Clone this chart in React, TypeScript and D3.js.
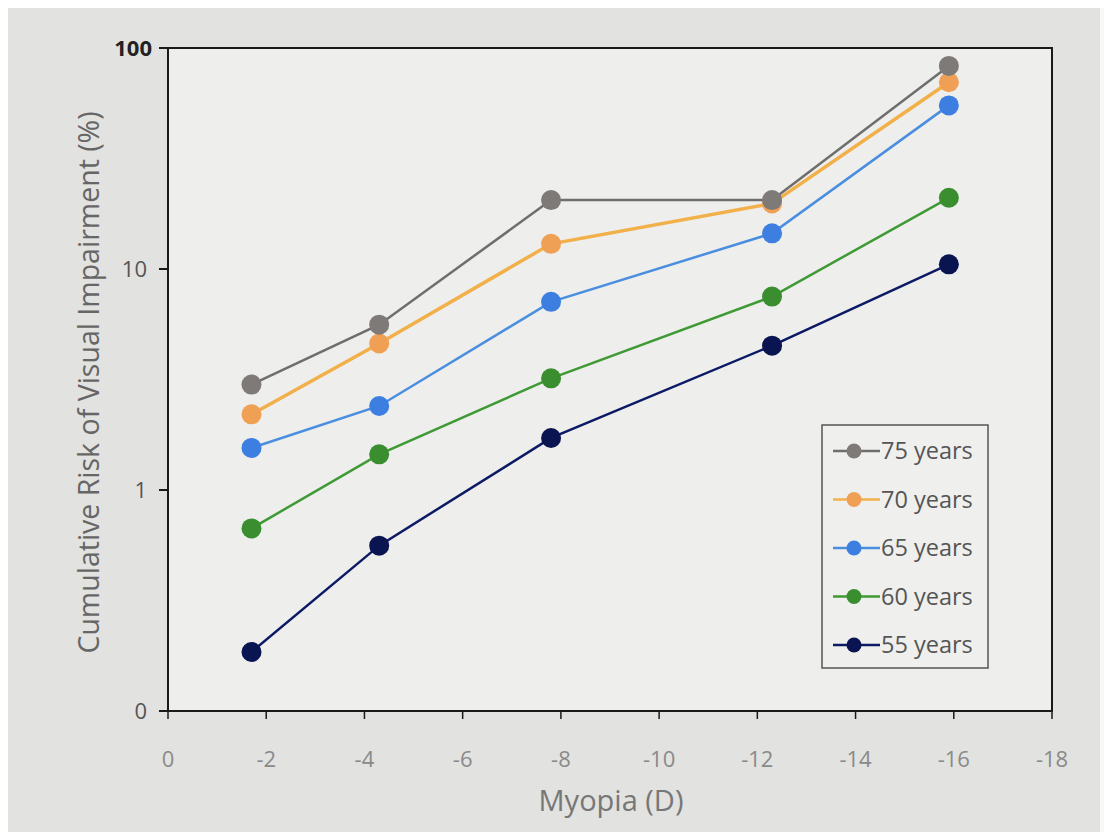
import React, { useEffect, useRef } from 'react';
import * as d3 from 'd3';

// myopia (D) for each point
const myopia = [-1.7, -4.3, -7.8, -12.3, -15.9];

const risk75 = [3.0, 5.6, 20.5, 20.5, 83];
const risk70 = [2.2, 4.6, 13.0, 19.8, 70];
const risk65 = [1.55, 2.4, 7.1, 14.5, 55];
const risk60 = [0.67, 1.45, 3.2, 7.5, 21];
const risk55 = [0.185, 0.56, 1.72, 4.5, 10.5];

const seriesNames = ['75 years', '70 years', '65 years', '60 years', '55 years'];
const xTicks = [0, -2, -4, -6, -8, -10, -12, -14, -16, -18];
const yTicks = [0.1, 1, 10, 100];
const yTickLabels = ['0', '1', '10', '100'];

const lineColors = ['#6e6e6e', '#f2b04a', '#4a8ee0', '#3f9a35', '#0c1a66'];
const dotColors = ['#7d7a78', '#f0a055', '#3d7fe0', '#3a8e30', '#0a1450'];

function App() {
  const ref = useRef<HTMLDivElement>(null);

  useEffect(() => {
    const element = ref.current;
    if (!element) return;
    element.innerHTML = '';

    const width = 1112;
    const height = 840;
    const font = '"Open Sans", "Liberation Sans", sans-serif';

    const svg = d3
      .select(element)
      .append('svg')
      .attr('width', width)
      .attr('height', height)
      .style('display', 'block');

    svg.append('rect').attr('width', width).attr('height', height).attr('fill', '#e2e2e0');
    // bright strip at the right edge of the photo
    svg.append('rect').attr('x', 1100).attr('width', 12).attr('height', height).attr('fill', '#f8f8f8');

    const x = d3.scaleLinear().domain([0, -18]).range([168, 1052]);
    const y = d3.scaleLog().domain([0.1, 100]).range([711, 48]);

    // plot area
    svg
      .append('rect')
      .attr('x', x(0))
      .attr('y', y(100))
      .attr('width', x(-18) - x(0))
      .attr('height', y(0.1) - y(100))
      .attr('fill', '#eeeeec');

    // frame
    svg
      .append('rect')
      .attr('x', x(0))
      .attr('y', y(100))
      .attr('width', x(-18) - x(0))
      .attr('height', y(0.1) - y(100))
      .attr('fill', 'none')
      .attr('stroke', '#1a1a1a')
      .attr('stroke-width', 2);

    // y axis ticks
    svg
      .selectAll('line.ytick')
      .data(yTicks)
      .join('line')
      .attr('class', 'ytick')
      .attr('x1', x(0) - 9)
      .attr('x2', x(0))
      .attr('y1', (d) => y(d))
      .attr('y2', (d) => y(d))
      .attr('stroke', '#1a1a1a')
      .attr('stroke-width', 2);

    svg
      .selectAll('text.ylab')
      .data(yTicks)
      .join('text')
      .attr('class', 'ylab')
      .attr('x', (d, i) => (i === 3 ? 152 : 147))
      .attr('y', (d) => y(d) + 8)
      .attr('text-anchor', 'end')
      .style('font-family', font)
      .style('font-size', '22px')
      .style('font-weight', (d, i) => (i === 3 ? 700 : 400))
      .attr('fill', (d, i) => (i === 3 ? '#222' : '#555'))
      .text((d, i) => yTickLabels[i]);

    // x axis ticks
    svg
      .selectAll('line.xtick')
      .data(xTicks)
      .join('line')
      .attr('class', 'xtick')
      .attr('x1', (d) => x(d))
      .attr('x2', (d) => x(d))
      .attr('y1', y(0.1))
      .attr('y2', y(0.1) + 8)
      .attr('stroke', '#1a1a1a')
      .attr('stroke-width', 1.5);

    svg
      .selectAll('text.xlab')
      .data(xTicks)
      .join('text')
      .attr('class', 'xlab')
      .attr('x', (d) => x(d))
      .attr('y', y(0.1) + 56)
      .attr('text-anchor', 'middle')
      .style('font-family', font)
      .style('font-size', '22px')
      .attr('fill', '#8a8a8a')
      .text((d) => `${d}`);

    // axis titles
    svg
      .append('text')
      .attr('transform', `translate(99,${(y(100) + y(0.1)) / 2 + 3}) rotate(-90)`)
      .attr('text-anchor', 'middle')
      .style('font-family', font)
      .style('font-size', '28.5px')
      .attr('fill', '#666')
      .text('Cumulative Risk of Visual Impairment (%)');

    svg
      .append('text')
      .attr('x', 611)
      .attr('y', 811)
      .attr('text-anchor', 'middle')
      .style('font-family', font)
      .style('font-size', '29px')
      .attr('fill', '#777')
      .text('Myopia (D)');

    const series = [risk75, risk70, risk65, risk60, risk55];
    const line = d3
      .line<number>()
      .x((d, i) => x(myopia[i]))
      .y((d) => y(d));

    // draw lowest series first so upper ones sit on top
    const order = [4, 3, 2, 1, 0];
    order.forEach((s) => {
      const g = svg.append('g');
      g.append('path')
        .attr('d', line(series[s]))
        .attr('fill', 'none')
        .attr('stroke', lineColors[s])
        .attr('stroke-width', s === 1 ? 3.5 : 2.5);
      g.selectAll('circle')
        .data(series[s])
        .join('circle')
        .attr('cx', (d, i) => x(myopia[i]))
        .attr('cy', (d) => y(d))
        .attr('r', 10)
        .attr('fill', dotColors[s]);
    });

    // legend
    const lg = svg.append('g').attr('transform', 'translate(822,425)');
    lg.append('rect')
      .attr('width', 166)
      .attr('height', 243)
      .attr('fill', '#efefed')
      .attr('stroke', '#555')
      .attr('stroke-width', 1.5);
    seriesNames.forEach((name, i) => {
      const cy = 26 + i * 48.5;
      lg.append('line')
        .attr('x1', 11)
        .attr('x2', 58)
        .attr('y1', cy)
        .attr('y2', cy)
        .attr('stroke', lineColors[i])
        .attr('stroke-width', 2.5);
      lg.append('circle').attr('cx', 32).attr('cy', cy).attr('r', 7.5).attr('fill', dotColors[i]);
      lg.append('text')
        .attr('x', 59)
        .attr('y', cy + 8)
        .style('font-family', font)
        .style('font-size', '23.5px')
        .attr('fill', '#555')
        .text(name);
    });
  }, []);

  return <div ref={ref} style={{ width: 1112, height: 840, margin: '-8px' }} />;
}

export default App;
